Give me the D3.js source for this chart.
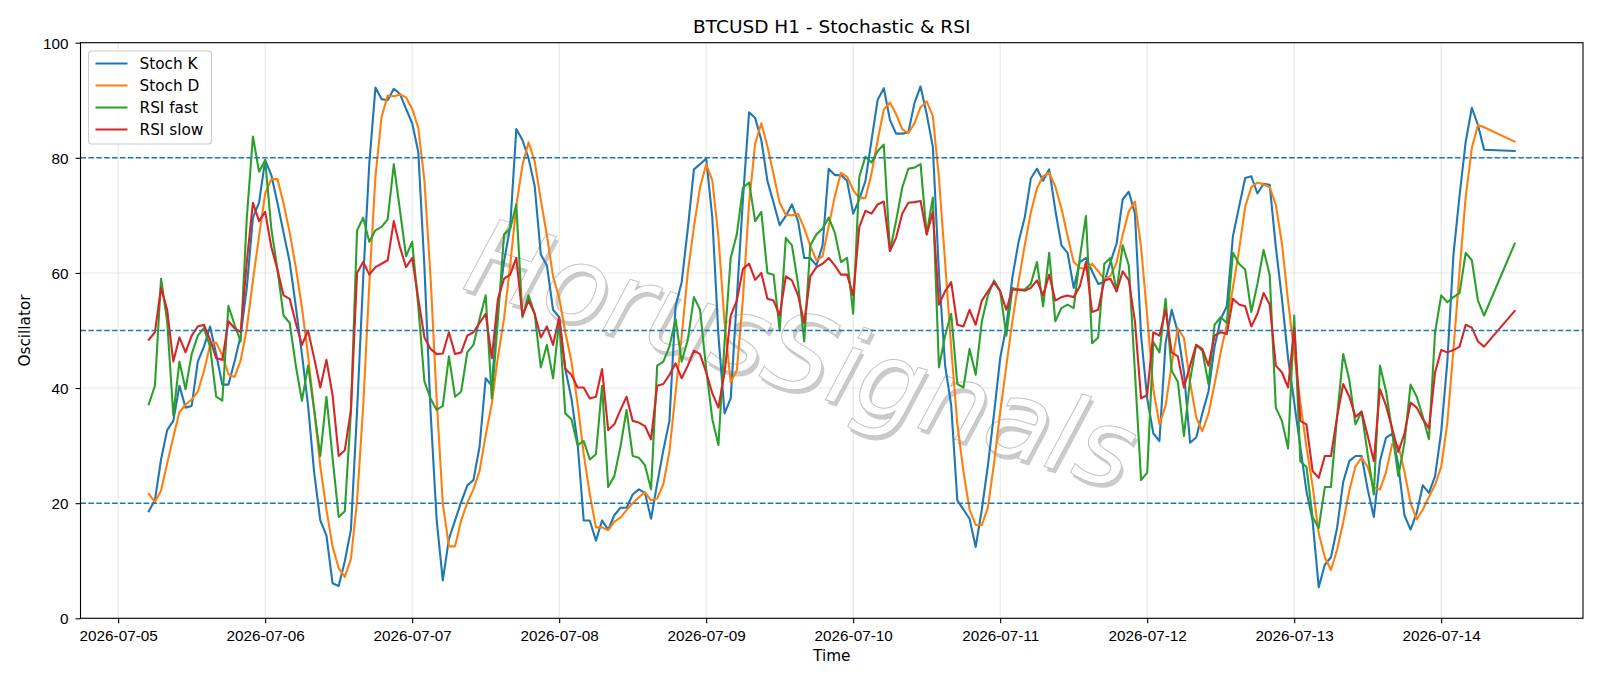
<!DOCTYPE html>
<html lang="en">
<head>
  <meta charset="UTF-8">
  <title>BTCUSD H1 - Stochastic & RSI</title>
  <script src="https://d3js.org/d3.v7.min.js"></script>
  <style>
    body { margin: 0; padding: 0; background: #fff; }
    svg { display: block; font-family: "DejaVu Sans", sans-serif; }
    .tick text { font-size: 15.3px; fill: #000; }
    .tick line { stroke: #000; stroke-width: 1.1px; }
  </style>
</head>
<body>
  <svg width="1600" height="686"></svg>
  <script>
    // hourly bars from 2026-07-05 05:00 to 2026-07-14 07:00, then one bar at 12:00
    const firstBar = new Date(2026, 6, 5, 5);
    const lastHourly = new Date(2026, 6, 14, 7);
    const finalBar = new Date(2026, 6, 14, 12);
    const times = d3.timeHour.range(firstBar, d3.timeHour.offset(lastHourly, 1)).concat([finalBar]);

    const stochK = [
      18.6, 20.5, 27.6, 32.7, 34.3, 40.4, 36.6, 36.9, 44.6, 47.2,
      50.7, 45.9, 40.6, 40.6, 44.6, 49.1, 57.4, 69.6, 72.2, 79.6,
      77.0, 72.2, 67.0, 61.9, 54.2, 45.9, 37.0, 25.3, 17.0, 14.4,
      6.1, 5.6, 9.9, 15.4, 36.0, 59.0, 79.0, 92.2, 90.2, 90.0,
      92.0, 91.1, 88.5, 86.0, 81.0, 61.0, 36.0, 17.0, 6.6, 13.8,
      17.0, 20.2, 23.1, 24.0, 29.8, 41.7, 40.4, 54.0, 62.0, 68.0,
      85.0, 83.1, 79.9, 75.1, 63.2, 61.3, 53.6, 52.3, 43.3, 38.2,
      30.5, 17.0, 17.0, 13.5, 17.0, 15.4, 17.9, 19.2, 19.2, 21.5,
      22.4, 21.8, 17.3, 23.4, 29.2, 34.3, 54.2, 58.4, 67.7, 78.0,
      78.9, 79.9, 69.6, 49.1, 35.6, 38.2, 55.5, 72.8, 87.9, 86.9,
      83.1, 76.0, 72.2, 68.3, 69.9, 71.9, 69.0, 62.6, 62.6, 61.3,
      64.8, 78.1, 77.0, 77.0, 76.0, 70.3, 72.8, 76.0, 83.1, 90.1,
      92.1, 86.6, 84.2, 84.2, 84.4, 89.5, 92.4, 87.6, 81.9, 60.0,
      44.0, 37.0, 20.5, 18.9, 17.3, 12.4, 18.9, 26.6, 35.6, 45.2,
      50.7, 59.3, 65.4, 69.6, 76.4, 78.1, 76.0, 78.0, 70.9, 64.8,
      63.5, 57.4, 61.9, 62.6, 60.3, 58.1, 58.4, 61.9, 65.1, 72.8,
      74.1, 70.3, 49.1, 38.2, 32.1, 30.8, 47.8, 53.6, 49.7, 42.7,
      30.5, 31.4, 35.6, 39.4, 47.2, 52.0, 54.2, 66.4, 71.5, 76.5,
      76.8, 73.8, 75.5, 75.3, 64.5, 55.5, 45.2, 37.5, 29.8, 22.1,
      17.0, 5.4, 9.3, 10.6, 15.7, 23.7, 27.3, 28.2, 28.2, 22.4,
      17.6, 27.3, 31.4, 32.1, 26.6, 17.9, 15.4, 18.3, 23.1, 21.8,
      24.7, 32.4, 44.6, 63.2, 73.5, 82.8, 88.7, 85.7, 81.4,
      81.2
    ];

    const stochD = [
      21.6, 20.2, 22.2, 26.9, 31.5, 35.8, 37.1, 38.0, 39.4, 42.9,
      47.5, 47.9, 45.7, 42.4, 41.9, 44.8, 50.4, 58.7, 66.4, 73.8,
      76.3, 76.3, 72.1, 67.0, 61.0, 54.0, 45.7, 36.1, 26.4, 18.9,
      12.5, 8.7, 7.2, 10.3, 20.4, 36.8, 58.0, 76.7, 87.1, 90.8,
      90.7, 91.0, 90.5, 88.5, 85.2, 76.0, 59.3, 38.0, 19.9, 12.5,
      12.5, 17.0, 20.1, 22.4, 25.6, 31.8, 37.3, 45.4, 52.1, 61.3,
      71.7, 78.7, 82.7, 79.4, 72.7, 66.5, 59.4, 55.7, 49.7, 44.6,
      37.3, 28.6, 21.5, 15.8, 15.8, 15.3, 16.8, 17.5, 18.8, 20.0,
      21.0, 21.9, 20.5, 20.8, 23.3, 29.0, 39.2, 49.0, 60.1, 68.0,
      74.9, 78.9, 76.1, 66.2, 51.4, 41.0, 43.1, 55.5, 72.1, 82.5,
      86.0, 82.0, 77.1, 72.2, 70.1, 70.0, 70.3, 67.8, 64.7, 62.2,
      62.9, 68.1, 73.3, 77.4, 76.7, 74.4, 73.0, 73.0, 77.3, 83.1,
      88.4, 89.6, 87.6, 85.0, 84.3, 86.0, 88.8, 89.8, 87.3, 76.5,
      62.0, 47.0, 33.8, 25.5, 18.9, 16.2, 16.2, 19.3, 27.0, 35.8,
      43.8, 51.7, 58.5, 64.8, 70.5, 74.7, 76.8, 77.4, 75.0, 71.2,
      66.4, 61.9, 60.9, 60.6, 61.6, 60.3, 58.9, 59.5, 61.8, 66.6,
      70.7, 72.4, 64.5, 52.5, 39.8, 33.7, 36.9, 44.1, 50.4, 48.7,
      41.0, 34.9, 32.5, 35.5, 40.7, 46.2, 51.1, 57.5, 64.0, 71.5,
      74.9, 75.7, 75.4, 74.9, 71.8, 65.1, 55.1, 46.1, 37.5, 29.8,
      23.0, 14.8, 10.6, 8.4, 11.9, 16.7, 22.2, 26.4, 27.9, 26.3,
      22.7, 22.4, 25.4, 30.3, 30.0, 25.5, 20.0, 17.2, 18.9, 21.1,
      23.2, 26.3, 33.9, 46.7, 60.4, 73.2, 81.7, 85.7, 85.3,
      82.8
    ];

    const rsiFast = [
      37.2, 40.4, 59.0, 51.6, 35.3, 44.6, 39.8, 45.9, 49.1, 50.4,
      47.2, 38.5, 37.8, 54.3, 51.0, 48.1, 69.6, 83.7, 77.6, 79.6,
      67.7, 60.6, 52.6, 51.3, 43.9, 37.8, 43.9, 36.2, 28.2, 38.5,
      27.9, 17.6, 18.6, 36.0, 67.4, 69.6, 65.4, 67.4, 68.0, 69.3,
      78.9, 70.9, 62.9, 65.4, 54.2, 41.1, 38.2, 36.2, 36.9, 45.5,
      38.5, 39.4, 46.2, 47.5, 52.0, 56.1, 38.2, 52.0, 66.7, 67.7,
      71.9, 52.3, 56.1, 52.9, 43.6, 47.5, 41.7, 51.6, 35.6, 34.6,
      30.1, 30.8, 27.6, 28.5, 40.4, 22.8, 24.7, 29.8, 36.2, 28.2,
      27.9, 26.6, 22.4, 43.9, 44.6, 47.2, 52.0, 44.6, 48.4, 55.8,
      53.6, 43.3, 34.6, 30.1, 48.0, 62.6, 66.7, 74.8, 75.7, 69.0,
      70.6, 60.0, 59.7, 50.0, 66.1, 64.8, 58.1, 48.1, 64.8, 66.7,
      67.7, 69.6, 67.0, 61.9, 62.6, 52.9, 76.7, 80.2, 79.2, 81.2,
      82.3, 63.8, 69.0, 74.8, 78.1, 78.3, 78.9, 66.7, 73.1, 43.6,
      49.1, 52.9, 40.7, 40.1, 46.8, 42.3, 51.6, 56.1, 58.7, 56.8,
      49.1, 57.4, 57.1, 57.1, 58.1, 61.9, 54.2, 63.5, 51.6, 53.9,
      54.5, 53.9, 62.6, 69.9, 47.8, 48.8, 61.6, 62.6, 56.8, 64.8,
      61.3, 42.7, 24.0, 25.3, 48.0, 46.2, 55.5, 43.0, 41.1, 31.7,
      41.4, 47.5, 46.5, 40.7, 51.0, 52.3, 51.3, 63.5, 61.6, 60.6,
      53.2, 58.1, 64.0, 59.7, 36.6, 34.3, 29.5, 52.6, 27.3, 26.3,
      17.6, 15.7, 22.8, 22.8, 35.0, 45.9, 41.4, 33.7, 35.9, 28.5,
      21.5, 43.9, 39.4, 32.4, 24.7, 30.5, 40.6, 38.5, 35.0, 31.1,
      49.7, 56.1, 54.9, 55.8, 56.5, 63.5, 62.2, 55.2, 52.6,
      65.1
    ];

    const rsiSlow = [
      48.4, 49.7, 57.4, 53.6, 44.6, 48.8, 46.2, 49.1, 50.7, 51.0,
      48.4, 45.2, 44.9, 51.6, 50.4, 49.7, 61.9, 72.2, 69.0, 70.6,
      64.5, 60.6, 56.1, 55.5, 51.3, 47.5, 50.0, 45.2, 40.1, 44.9,
      38.8, 28.2, 29.2, 36.2, 60.0, 61.9, 59.7, 61.0, 61.6, 62.2,
      69.0, 64.5, 61.0, 62.6, 55.5, 48.8, 46.8, 45.9, 46.0, 49.7,
      45.9, 46.2, 49.1, 49.7, 51.3, 52.9, 45.2, 55.5, 59.0, 59.7,
      62.6, 52.6, 55.2, 52.9, 48.8, 50.7, 47.5, 52.3, 43.3, 42.3,
      40.1, 40.1, 38.2, 38.5, 43.3, 32.7, 33.7, 36.2, 38.5, 34.3,
      34.0, 33.4, 31.1, 40.4, 40.7, 42.3, 44.3, 41.7, 43.9, 46.5,
      45.9, 42.7, 39.1, 36.6, 42.7, 52.6, 55.2, 60.7, 61.6, 58.8,
      60.0, 55.5, 55.2, 52.6, 59.4, 58.7, 56.1, 51.3, 59.4, 61.0,
      61.6, 62.6, 61.3, 59.7, 59.7, 56.1, 68.0, 70.8, 70.3, 71.9,
      72.4, 63.8, 66.1, 70.3, 72.2, 72.3, 72.5, 66.7, 70.6, 54.5,
      56.8, 58.4, 51.0, 50.7, 53.6, 51.0, 55.2, 56.8, 58.4, 56.8,
      53.6, 57.1, 57.1, 56.9, 57.4, 58.7, 56.1, 59.7, 55.2, 55.8,
      56.1, 55.8, 57.7, 61.9, 53.2, 53.6, 58.7, 59.0, 56.8, 60.3,
      58.7, 51.6, 38.2, 38.8, 49.7, 49.1, 53.6, 46.2, 45.5, 40.1,
      43.9, 47.5, 46.8, 43.9, 49.1, 49.7, 49.4, 55.5, 54.5, 54.2,
      50.7, 52.9, 56.5, 54.5, 43.9, 42.7, 40.1, 50.4, 34.3, 33.7,
      25.6, 24.4, 28.2, 28.2, 35.0, 40.7, 38.5, 35.0, 35.9, 31.7,
      27.3, 39.8, 36.9, 33.0, 28.9, 32.1, 37.5, 36.6, 34.6, 33.0,
      42.7, 46.6, 46.2, 46.6, 47.2, 51.0, 50.5, 48.1, 47.2,
      53.4
    ];

    const seriesNames = ["Stoch K", "Stoch D", "RSI fast", "RSI slow"];
    const seriesValues = [stochK, stochD, rsiFast, rsiSlow];
    const seriesColors = ["#1f77b4", "#ff7f0e", "#2ca02c", "#d62728"];
    const levels = [20, 50, 80];
    const yTicks = [0, 20, 40, 60, 80, 100];

    const plotLeft = 80.5, plotRight = 1583, plotTop = 42.7, plotBottom = 618.3;

    const svg = d3.select("svg");

    // matplotlib-like 5% x margins
    const t0 = times[0].getTime(), t1 = times[times.length - 1].getTime();
    const pad = (t1 - t0) * 0.05;
    const x = d3.scaleTime()
      .domain([new Date(t0 - pad), new Date(t1 + pad)])
      .range([plotLeft, plotRight]);
    const y = d3.scaleLinear().domain([0, 100]).range([plotBottom, plotTop]);

    const days = d3.timeDay.range(new Date(2026, 6, 5), new Date(2026, 6, 15));

    // grid
    const grid = svg.append("g")
      .attr("stroke", "#b0b0b0")
      .attr("stroke-opacity", 0.3)
      .attr("stroke-width", 1.1);
    grid.selectAll("line.v")
      .data(days)
      .join("line")
      .attr("class", "v")
      .attr("x1", d => x(d)).attr("x2", d => x(d))
      .attr("y1", plotTop).attr("y2", plotBottom);
    grid.selectAll("line.h")
      .data(yTicks)
      .join("line")
      .attr("class", "h")
      .attr("x1", plotLeft).attr("x2", plotRight)
      .attr("y1", d => y(d)).attr("y2", d => y(d));

    // watermark: shadow, then white letters with a light outline
    const wm = svg.append("g")
      .attr("transform", "translate(791,389) rotate(17)")
      .style("font-family", "'DejaVu Sans', sans-serif")
      .style("font-style", "oblique")
      .style("font-size", "106px")
      .attr("text-anchor", "middle");
    wm.append("text")
      .attr("x", 3.5).attr("y", 3.5)
      .attr("fill", "#a0a0a0")
      .attr("fill-opacity", 0.55)
      .text("HorusSignals");
    wm.append("text")
      .attr("fill", "#ffffff")
      .attr("stroke", "#c4c4c4")
      .attr("stroke-width", 1)
      .text("HorusSignals");

    // series
    const line = d3.line()
      .x((d, i) => x(times[i]))
      .y(d => y(d));

    svg.append("g")
      .selectAll("path")
      .data(seriesValues)
      .join("path")
      .attr("fill", "none")
      .attr("stroke", (d, i) => seriesColors[i])
      .attr("stroke-width", 2.1)
      .attr("stroke-linejoin", "round")
      .attr("stroke-linecap", "square")
      .attr("d", line);

    // reference levels
    svg.append("g")
      .selectAll("line")
      .data(levels)
      .join("line")
      .attr("x1", plotLeft).attr("x2", plotRight)
      .attr("y1", d => y(d)).attr("y2", d => y(d))
      .attr("stroke", "#1f77b4")
      .attr("stroke-width", 1.5)
      .attr("stroke-dasharray", "5.5,2.4");

    // axes
    const xAxis = svg.append("g")
      .attr("transform", `translate(0,${plotBottom})`)
      .call(d3.axisBottom(x)
        .tickValues(days)
        .tickFormat(d3.timeFormat("%Y-%m-%d"))
        .tickSize(5)
        .tickPadding(7));
    xAxis.select(".domain").remove();

    const yAxis = svg.append("g")
      .attr("transform", `translate(${plotLeft},0)`)
      .call(d3.axisLeft(y)
        .tickValues(yTicks)
        .tickFormat(d3.format("d"))
        .tickSize(5)
        .tickPadding(7));
    yAxis.select(".domain").remove();
    yAxis.selectAll(".tick text").attr("dy", "0.36em");

    svg.append("rect")
      .attr("x", plotLeft).attr("y", plotTop)
      .attr("width", plotRight - plotLeft).attr("height", plotBottom - plotTop)
      .attr("fill", "none")
      .attr("stroke", "#000")
      .attr("stroke-width", 1.1);

    // labels
    svg.append("text")
      .attr("x", (plotLeft + plotRight) / 2).attr("y", 33)
      .attr("text-anchor", "middle")
      .style("font-size", "18.5px")
      .text("BTCUSD H1 - Stochastic & RSI");

    svg.append("text")
      .attr("x", (plotLeft + plotRight) / 2).attr("y", 661)
      .attr("text-anchor", "middle")
      .style("font-size", "15.3px")
      .text("Time");

    svg.append("text")
      .attr("transform", `translate(30,${(plotTop + plotBottom) / 2}) rotate(-90)`)
      .attr("text-anchor", "middle")
      .style("font-size", "15.3px")
      .text("Oscillator");

    // legend
    const legend = svg.append("g").attr("transform", "translate(88.5,51)");
    legend.append("rect")
      .attr("width", 123).attr("height", 93)
      .attr("rx", 3)
      .attr("fill", "#fff").attr("fill-opacity", 0.8)
      .attr("stroke", "#cccccc").attr("stroke-width", 1.1);
    const item = legend.selectAll("g.item")
      .data(seriesNames)
      .join("g")
      .attr("class", "item")
      .attr("transform", (d, i) => `translate(0,${12.5 + i * 22})`);
    item.append("line")
      .attr("x1", 7).attr("x2", 39)
      .attr("stroke", (d, i) => seriesColors[i])
      .attr("stroke-width", 2.1);
    item.append("text")
      .attr("x", 51).attr("dy", "0.36em")
      .style("font-size", "15.3px")
      .text(d => d);
  </script>
</body>
</html>
